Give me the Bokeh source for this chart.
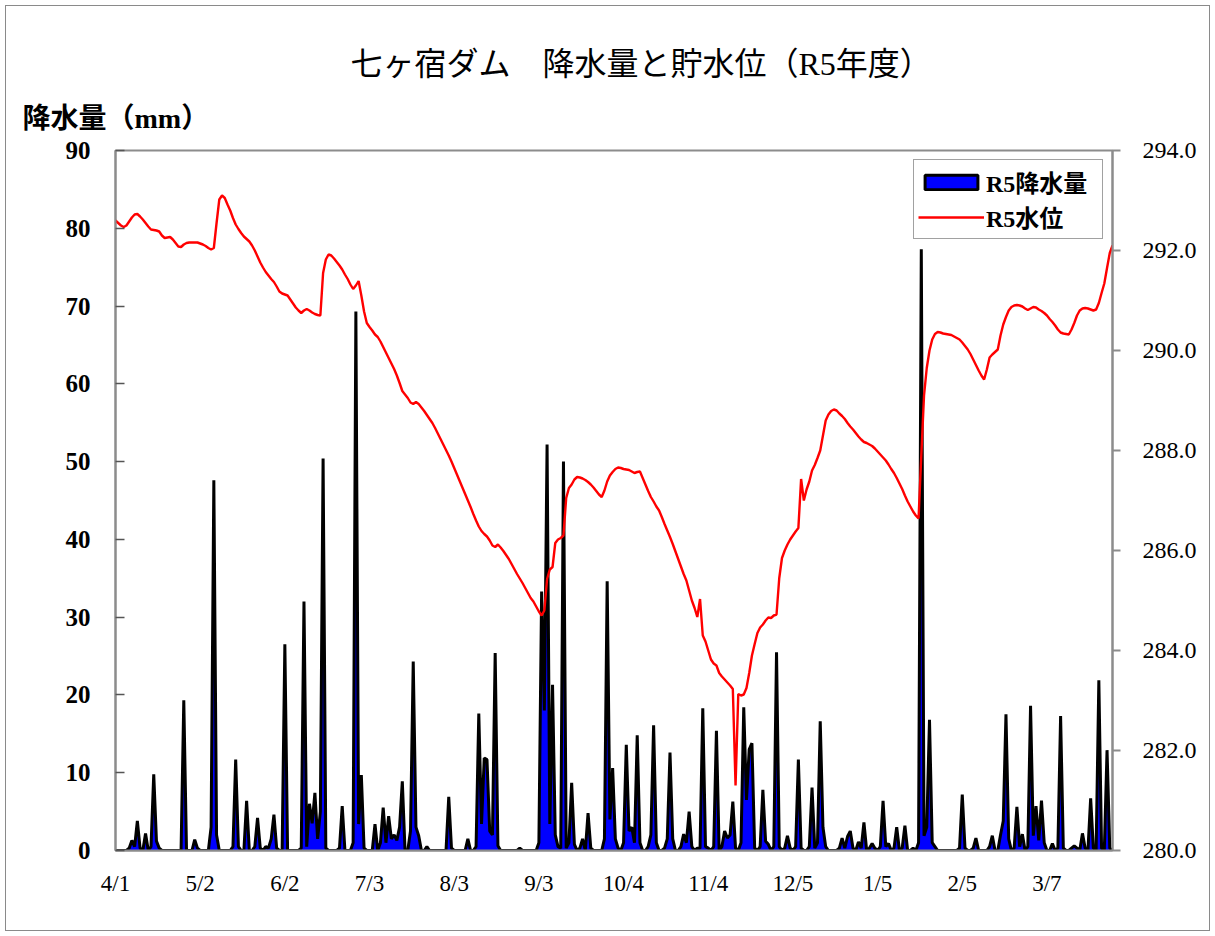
import pandas as pd
from bokeh.plotting import figure
from bokeh.models import (Range1d, LinearAxis, SingleIntervalTicker, NumeralTickFormatter,
                          Title, Legend, LegendItem, ColumnDataSource)
from bokeh.embed import file_html
from bokeh.resources import INLINE

# ---------------- data (FY R5: 2023-04-01 .. 2024-03-31) ----------------
dates = pd.date_range("2023-04-01", "2024-03-31", freq="D")

# daily precipitation (mm), one list per month
rain_apr = [0, 0, 0, 0, 0, 0.3, 1.3, 0.5, 3.8, 0.3, 0, 2.2, 0, 0.5, 9.8, 1.2, 0.3, 0, 0, 0,
            0, 0, 0, 0, 0, 19.3, 0, 0, 0, 1.4]
rain_may = [0.3, 0, 0, 0, 0, 3.0, 47.6, 2.0, 0, 0, 0, 0, 0, 0.5, 11.7, 0.5, 0, 0, 6.4, 0,
            0, 0.5, 4.2, 0.3, 0, 0.5, 0.3, 1.5, 4.6, 0.3, 0]
rain_jun = [0, 26.5, 0, 0, 0, 0, 0, 0.3, 32.0, 0.5, 6.0, 3.5, 7.4, 1.5, 5.0, 50.4, 0.3, 0, 0, 0,
            0, 0.3, 5.7, 0, 0, 0, 1.0, 69.3, 3.4, 9.7]
rain_jul = [0.3, 0, 0, 0, 3.4, 0, 1.0, 5.5, 1.0, 4.4, 1.5, 2.0, 1.3, 3.0, 8.9, 0, 0, 2.5, 24.3, 3.0,
            1.9, 0, 0, 0.5, 0, 0, 0, 0, 0, 0, 0]
rain_aug = [6.9, 0.3, 0, 0, 0, 0, 0, 1.5, 0, 0, 0.5, 17.6, 3.4, 11.9, 11.7, 2.5, 2.0, 25.4, 0.6, 0,
            0, 0, 0, 0, 0, 0, 0.3, 0, 0, 0, 0]
rain_sep = [0, 0, 1.0, 33.3, 18.0, 52.2, 3.4, 21.3, 2.0, 0.5, 0.3, 50.0, 0.3, 1.0, 8.7, 0.8, 0, 0.3, 1.5, 0,
            4.8, 0.3, 0, 0, 0, 0, 1.5, 34.6, 4.0, 10.6]
rain_oct = [1.5, 0.3, 0, 1.0, 13.6, 2.5, 3.0, 1.0, 14.8, 1.0, 0, 0, 0.5, 2.0, 16.1, 1.0, 0, 0, 0.3, 1.5,
            12.6, 1.5, 0, 0, 0.5, 2.1, 1.0, 5.0, 0.5, 0, 0.3]
rain_nov = [0.3, 18.3, 0.5, 0.3, 0, 0.5, 15.4, 0, 0.5, 2.5, 1.6, 2.0, 6.3, 0.3, 0, 1.0, 18.4, 6.5, 13.0, 13.8,
            0.3, 0, 0.5, 7.8, 1.2, 0.8, 0, 0.5, 25.5, 0.5]
rain_dec = [0, 0.3, 1.9, 0.3, 0, 0.5, 11.7, 0.3, 0, 0, 0.5, 8.1, 0.3, 1.0, 16.6, 3.0, 0.5, 0, 0, 0,
            0, 0.3, 1.6, 0.3, 1.8, 2.5, 0.3, 0, 1.1, 0.3, 3.6]
rain_jan = [0, 0.3, 0.9, 0.3, 0, 0.5, 6.4, 0.5, 0.9, 0, 0.3, 3.0, 0, 0.3, 3.2, 0, 0, 0.3, 0, 1.0,
            77.3, 1.9, 3.0, 16.8, 1.0, 0.5, 0, 0, 0, 0, 0]
rain_feb = [0, 0, 0, 0.3, 7.2, 0.3, 0, 0, 0.3, 1.6, 0, 0, 0, 0, 0.5, 1.9, 0, 0, 2.0, 3.8,
            17.5, 1.5, 0, 0.3, 5.6, 0.5, 2.1, 0, 0.5]
rain_mar = [18.6, 1.9, 5.7, 1.3, 6.4, 1.0, 0, 0, 0.9, 0, 0.3, 17.3, 0.3, 0, 0, 0.3, 0.6, 0.3, 0, 2.2,
            0.3, 0, 6.7, 0.3, 0, 21.9, 0.3, 0, 12.9, 0.3, 0]

# daily reservoir water level (EL.m), one list per month
level_apr = [292.60, 292.55, 292.50, 292.47, 292.50, 292.58, 292.66, 292.72, 292.73, 292.68,
             292.62, 292.55, 292.48, 292.42, 292.41, 292.40, 292.38, 292.30, 292.25, 292.26,
             292.27, 292.22, 292.15, 292.08, 292.07, 292.12, 292.15, 292.16, 292.16, 292.16]
level_may = [292.16, 292.14, 292.12, 292.09, 292.05, 292.02, 292.05, 292.55, 293.02, 293.10,
             293.05, 292.92, 292.80, 292.65, 292.52, 292.43, 292.35, 292.28, 292.23, 292.18,
             292.10, 292.00, 291.88, 291.76, 291.66, 291.57, 291.50, 291.43, 291.37, 291.28, 291.18]
level_jun = [291.14, 291.12, 291.10, 291.02, 290.94, 290.86, 290.80, 290.75, 290.80, 290.83,
             290.80, 290.76, 290.73, 290.71, 290.70, 291.55, 291.82, 291.92, 291.90, 291.84,
             291.77, 291.70, 291.62, 291.52, 291.43, 291.32, 291.23, 291.30, 291.39, 291.10]
level_jul = [290.78, 290.55, 290.47, 290.40, 290.32, 290.27, 290.18, 290.07, 289.96, 289.85,
             289.74, 289.63, 289.50, 289.35, 289.19, 289.12, 289.05, 288.96, 288.93, 288.97,
             288.93, 288.86, 288.79, 288.71, 288.63, 288.55, 288.45, 288.34, 288.23, 288.12, 288.01]
level_aug = [287.90, 287.78, 287.65, 287.52, 287.39, 287.26, 287.13, 287.00, 286.87, 286.73,
             286.60, 286.48, 286.39, 286.33, 286.28, 286.20, 286.10, 286.07, 286.12, 286.06,
             285.99, 285.91, 285.83, 285.73, 285.63, 285.53, 285.44, 285.35, 285.25, 285.15, 285.05]
level_sep = [284.98, 284.88, 284.78, 284.70, 284.80, 285.43, 285.62, 285.67, 286.15, 286.22,
             286.25, 286.30, 287.05, 287.25, 287.32, 287.42, 287.47, 287.46, 287.44, 287.41,
             287.37, 287.32, 287.26, 287.19, 287.12, 287.07, 287.20, 287.38, 287.50, 287.57]
level_oct = [287.63, 287.66, 287.65, 287.63, 287.62, 287.61, 287.58, 287.55, 287.57, 287.58,
             287.45, 287.32, 287.19, 287.07, 286.98, 286.88, 286.80, 286.67, 286.53, 286.40,
             286.27, 286.13, 285.98, 285.83, 285.68, 285.53, 285.40, 285.20, 285.00, 284.85, 284.67]
level_nov = [285.03, 284.30, 284.18, 284.00, 283.82, 283.74, 283.70, 283.55, 283.48, 283.42,
             283.36, 283.30, 283.23, 281.30, 283.13, 283.10, 283.12, 283.25, 283.55, 283.90,
             284.13, 284.35, 284.46, 284.52, 284.60, 284.66, 284.65, 284.70, 284.72, 285.45]
level_dec = [285.85, 286.00, 286.12, 286.22, 286.30, 286.38, 286.45, 287.43, 287.00, 287.22,
             287.38, 287.60, 287.71, 287.85, 288.00, 288.30, 288.60, 288.72, 288.79, 288.82,
             288.80, 288.74, 288.69, 288.63, 288.55, 288.48, 288.42, 288.35, 288.28, 288.22, 288.17]
level_jan = [288.15, 288.12, 288.09, 288.04, 287.98, 287.92, 287.86, 287.80, 287.72, 287.63,
             287.55, 287.45, 287.34, 287.23, 287.10, 286.98, 286.88, 286.78, 286.70, 286.64,
             287.90, 289.10, 289.65, 290.00, 290.22, 290.33, 290.37, 290.36, 290.34, 290.33, 290.32]
level_feb = [290.31, 290.28, 290.25, 290.22, 290.16, 290.09, 290.02, 289.93, 289.82, 289.71,
             289.60, 289.50, 289.42, 289.62, 289.86, 289.92, 289.97, 290.02, 290.30, 290.52,
             290.67, 290.80, 290.87, 290.90, 290.91, 290.90, 290.88, 290.84, 290.81]
level_mar = [290.84, 290.87, 290.86, 290.82, 290.79, 290.75, 290.70, 290.63, 290.57, 290.50,
             290.42, 290.36, 290.34, 290.33, 290.32, 290.42, 290.55, 290.70, 290.80, 290.84,
             290.85, 290.84, 290.82, 290.80, 290.82, 290.95, 291.15, 291.34, 291.65, 291.95, 292.10]

title_text = "七ヶ宿ダム　降水量と貯水位（R5年度）"
ylabel_text = "降水量（mm）"
rain_name = "R5降水量"
level_name = "R5水位"

rain = (rain_apr + rain_may + rain_jun + rain_jul + rain_aug + rain_sep +
        rain_oct + rain_nov + rain_dec + rain_jan + rain_feb + rain_mar)
level = (level_apr + level_may + level_jun + level_jul + level_aug + level_sep +
         level_oct + level_nov + level_dec + level_jan + level_feb + level_mar)
n = len(dates)
days = list(range(n))
tick_days = list(range(0, n, 31))
tick_labels = [f"{dates[i].month}/{dates[i].day}" for i in tick_days]

src = ColumnDataSource(dict(day=days[:len(rain)], rain=rain))
src_lv = ColumnDataSource(dict(day=days[:len(level)], level=level))

SERIF = "'Liberation Serif', 'Noto Sans CJK JP'"

# ---------------- figure ----------------
p = figure(frame_width=997, frame_height=700,
           min_border_left=109, min_border_right=97, min_border_top=144, min_border_bottom=80,
           x_range=Range1d(0, n - 1), y_range=Range1d(0, 90),
           output_backend="svg", toolbar_location=None, title=None)
p.styles = {"border": "1px solid #8a8a8a", "margin-left": "5px", "margin-top": "5px"}
p.background_fill_color = "white"
p.border_fill_color = "white"
p.xgrid.visible = False
p.ygrid.visible = False
p.outline_line_color = "#8c8c8c"
p.outline_line_width = 2

p.extra_y_ranges = {"lv": Range1d(280, 294)}

# precipitation area with black outline
p.varea(x="day", y1=0, y2="rain", source=src, fill_color="#0000FF", fill_alpha=1.0)
p.line(x="day", y="rain", source=src, line_color="black", line_width=3)
# water level
lv_r = p.line(x="day", y="level", source=src_lv, y_range_name="lv",
              line_color="#FF0000", line_width=2.4)

# legend proxy for the area (blue box with black border)
nan = float("nan")
leg_box = p.quad(left=[nan], right=[nan], bottom=[nan], top=[nan],
                 fill_color="#0000FF", line_color="black", line_width=3)

# left axis
ya = p.yaxis[0]
ya.ticker = SingleIntervalTicker(interval=10)
ya.major_label_text_font = SERIF
ya.major_label_text_font_size = "25px"
ya.major_label_text_font_style = "bold"
ya.major_label_text_color = "black"
ya.major_tick_in = 9
ya.major_tick_out = 0
ya.minor_tick_line_color = None
ya.major_tick_line_color = "#555555"
ya.major_tick_line_width = 1.5
ya.axis_line_color = "#8c8c8c"
ya.axis_line_width = 2
ya.major_label_standoff = 21

# right axis
ra = LinearAxis(y_range_name="lv", ticker=SingleIntervalTicker(interval=2),
                formatter=NumeralTickFormatter(format="0.0"))
ra.major_label_text_font = SERIF
ra.major_label_text_font_size = "24px"
ra.major_label_text_color = "black"
ra.major_tick_in = 0
ra.major_tick_out = 8
ra.minor_tick_line_color = None
ra.major_tick_line_color = "#8c8c8c"
ra.major_tick_line_width = 2
ra.axis_line_color = "#8c8c8c"
ra.axis_line_width = 2
ra.major_label_standoff = 22
p.add_layout(ra, "right")

# bottom axis
xa = p.xaxis[0]
xa.ticker = tick_days
xa.major_label_overrides = {d: lab for d, lab in zip(tick_days, tick_labels)}
xa.major_label_text_font = SERIF
xa.major_label_text_font_size = "23px"
xa.major_label_text_color = "black"
xa.major_tick_line_color = None
xa.minor_tick_line_color = None
xa.axis_line_color = "#8c8c8c"
xa.axis_line_width = 2
xa.major_label_standoff = 14

# y-axis caption (closest to the frame) and main title (outermost)
p.add_layout(Title(text=ylabel_text, align="left", offset=-93, standoff=34,
                   text_font=SERIF, text_font_size="28px", text_font_style="bold",
                   text_color="black"), "above")
p.add_layout(Title(text=title_text, align="left", offset=235, standoff=4,
                   text_font=SERIF, text_font_size="32px", text_font_style="normal",
                   text_color="black"), "above")

legend = Legend(items=[LegendItem(label=rain_name, renderers=[leg_box]),
                       LegendItem(label=level_name, renderers=[lv_r])],
                location="top_right", margin=9, padding=4, spacing=0,
                glyph_width=66, glyph_height=18, label_height=20, label_width=112,
                label_standoff=2,
                label_text_font=SERIF, label_text_font_size="24px",
                label_text_font_style="bold", label_text_color="black",
                border_line_color="#444444", border_line_width=1,
                background_fill_color="white", background_fill_alpha=1.0)
p.add_layout(legend)

open("out.html", "w").write(file_html(p, INLINE))
